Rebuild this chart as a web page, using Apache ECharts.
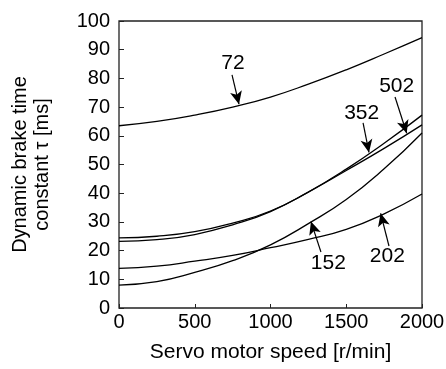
<!DOCTYPE html>
<html>
<head>
<meta charset="utf-8">
<script src="https://cdn.jsdelivr.net/npm/echarts@6/dist/echarts.min.js"></script>
<style>
  html, body { margin: 0; padding: 0; background: #fff; }
  #chart { width: 446px; height: 369px; }
</style>
</head>
<body>
<div id="chart"></div>
<script>
// speed [r/min]
var speeds = [0, 250, 500, 750, 1000, 1250, 1500, 1750, 2000];
// time constant [ms] per motor
var s72  = [63.5, 65.0, 67.2, 70.0, 73.5, 78.0, 83.0, 88.5, 94.2];
var s352 = [23.2, 23.8, 25.6, 29.0, 33.6, 40.4, 48.4, 57.4, 67.2];
var s502 = [24.4, 25.0, 26.6, 29.6, 33.8, 40.4, 47.9, 55.6, 63.8];
var s152 = [8.0, 9.2, 12.4, 16.5, 22.0, 29.4, 37.8, 48.5, 61.0];
var s202 = [13.8, 14.6, 16.3, 18.3, 21.0, 23.9, 27.4, 32.8, 39.7];

// annotation: label pos, arrow start, arrow tip (data coords)
var notes = [
    { name: '72',  label: [752, 85.4],  from: [746, 81.2],  to: [792, 71.0] },
    { name: '352', label: [1602, 68.0], from: [1611, 64.5], to: [1650, 54.2] },
    { name: '502', label: [1833, 77.4], from: [1822, 73.5], to: [1899, 60.9] },
    { name: '152', label: [1382, 15.6], from: [1333, 19.5], to: [1267, 30.1] },
    { name: '202', label: [1771, 18.1], from: [1782, 21.6], to: [1727, 33.0] }
];

var font = 'Liberation Sans, Arial, sans-serif';

function pairs(ys) {
    return speeds.map(function (x, i) { return [x, ys[i]]; });
}

function curve(name, ys) {
    return {
        name: name,
        type: 'line',
        smooth: true,
        symbol: 'none',
        lineStyle: { color: '#000', width: 1.3 },
        data: pairs(ys)
    };
}

var series = [
    curve('72', s72),
    curve('352', s352),
    curve('502', s502),
    curve('152', s152),
    curve('202', s202)
];

// arrows and labels on an empty helper series
series.push({
    type: 'line',
    data: [],
    markLine: {
        silent: true,
        symbol: ['none', 'arrow'],
        symbolSize: [9, 13],
        label: { show: false },
        lineStyle: { color: '#000', width: 1.2, type: 'solid' },
        data: notes.map(function (n) {
            return [{ coord: n.from }, { coord: n.to }];
        })
    },
    markPoint: {
        silent: true,
        symbol: 'circle',
        symbolSize: 0,
        label: {
            show: true,
            position: 'inside',
            color: '#000',
            fontSize: 21,
            fontFamily: font,
            formatter: function (p) { return p.name; }
        },
        data: notes.map(function (n) {
            return { name: n.name, coord: n.label };
        })
    }
});

var myChart = echarts.init(document.getElementById('chart'));
var option = {
    animation: false,
    grid: {
        left: 119,
        right: 24,
        top: 21,
        bottom: 61,
        outerBoundsMode: 'none',
        show: true,
        borderColor: '#222',
        borderWidth: 1.3
    },
    xAxis: {
        type: 'value',
        min: 0,
        max: 2000,
        interval: 500,
        name: 'Servo motor speed [r/min]',
        nameLocation: 'middle',
        nameGap: 34,
        nameTextStyle: { color: '#000', fontSize: 21, fontFamily: font },
        axisLine: { show: false },
        axisTick: { show: true, inside: true, length: 4, lineStyle: { color: '#222' } },
        axisLabel: {
            color: '#000', fontSize: 20, fontFamily: font, margin: 4,
            formatter: function (v) { return String(v); }
        },
        splitLine: { show: false }
    },
    yAxis: {
        type: 'value',
        min: 0,
        max: 100,
        interval: 10,
        name: 'Dynamic brake time\nconstant τ [ms]',
        nameLocation: 'middle',
        nameGap: 66,
        nameTextStyle: { color: '#000', fontSize: 20, fontFamily: font, lineHeight: 22 },
        axisLine: { show: false },
        axisTick: { show: true, inside: true, length: 5, lineStyle: { color: '#222' } },
        axisLabel: { color: '#000', fontSize: 20, fontFamily: font, margin: 9 },
        splitLine: { show: false }
    },
    series: series
};
myChart.setOption(option);
</script>
</body>
</html>
